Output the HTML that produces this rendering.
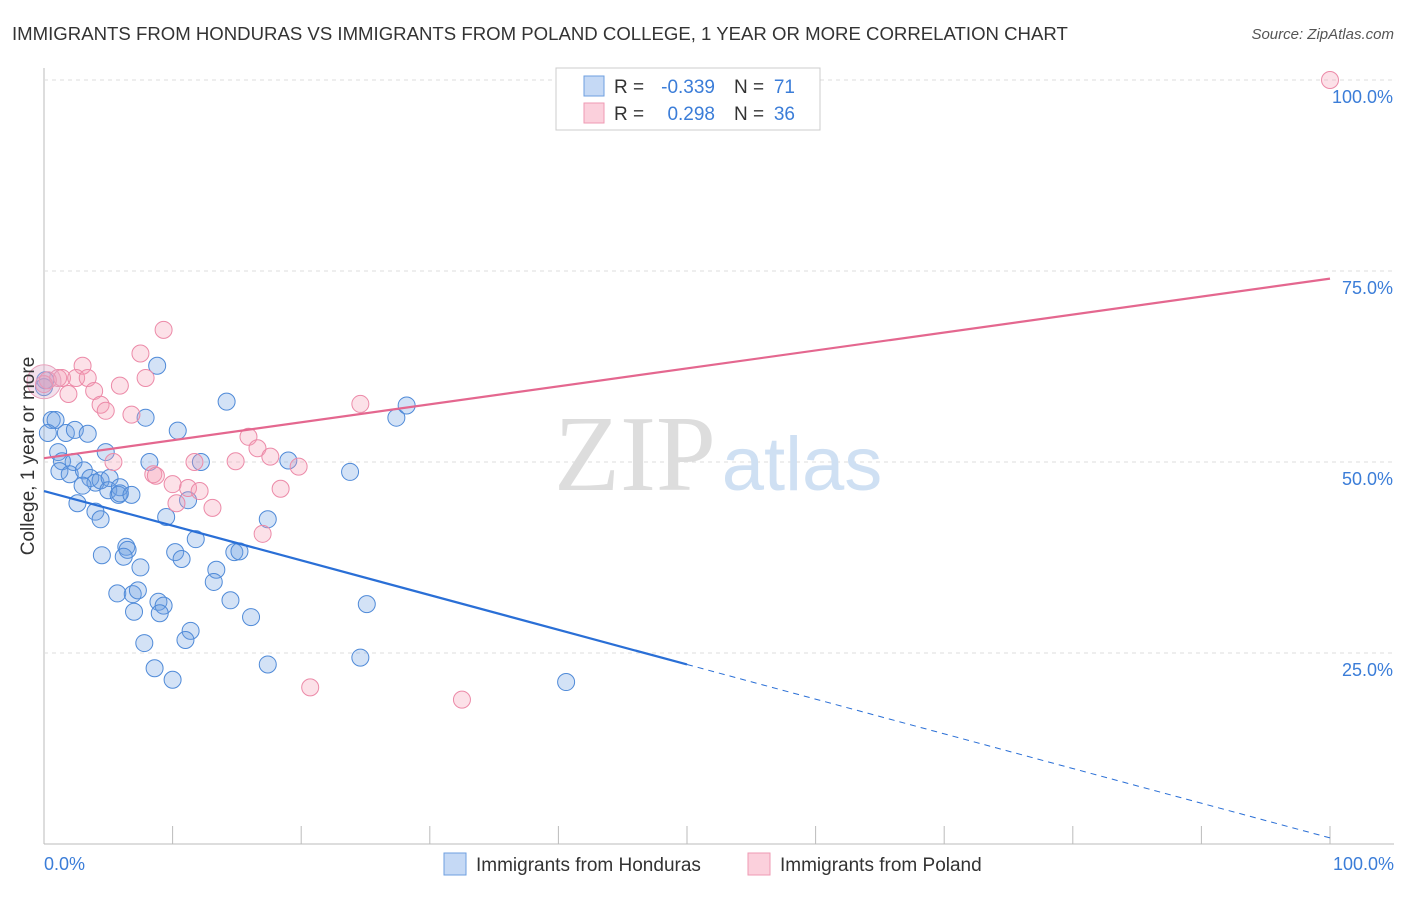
<!DOCTYPE html>
<html><head><meta charset="utf-8"><style>
body{margin:0;background:#fff;font-family:"Liberation Sans",sans-serif;}
</style></head><body>
<svg width="1406" height="892" xmlns="http://www.w3.org/2000/svg">
<text x="12" y="40" font-size="18.6" fill="#333">IMMIGRANTS FROM HONDURAS VS IMMIGRANTS FROM POLAND COLLEGE, 1 YEAR OR MORE CORRELATION CHART</text>
<text x="1394" y="39" font-size="15" fill="#555" font-style="italic" text-anchor="end">Source: ZipAtlas.com</text>
<g id="grid"></g>
<text x="635" y="490" font-size="108" fill="#ddd" font-family="Liberation Serif" text-anchor="middle">ZIP</text>
<text x="802" y="490" font-size="76" fill="#cfe0f3" text-anchor="middle">atlas</text>
<g id="pts"></g>
<g id="lines"></g>
<text x="34" y="456" font-size="19" fill="#333" text-anchor="middle" transform="rotate(-90 34 456)">College, 1 year or more</text>
<text x="44" y="870" font-size="18" fill="#3b7dd8">0.0%</text>
<text x="1394" y="870" font-size="18" fill="#3b7dd8" text-anchor="end">100.0%</text>
<g>
<rect x="556" y="68" width="264" height="62" fill="#fff" stroke="#ccc"/>
<rect x="584" y="76" width="20" height="20" fill="#c5d9f5" stroke="#6e9fe0"/>
<rect x="584" y="103" width="20" height="20" fill="#fbd0dc" stroke="#ef9ab3"/>
<text x="614" y="93" font-size="19" fill="#333">R =</text>
<text x="715" y="93" font-size="19" fill="#3b7dd8" text-anchor="end">-0.339</text>
<text x="734" y="93" font-size="19" fill="#333">N =</text>
<text x="795" y="93" font-size="19" fill="#3b7dd8" text-anchor="end">71</text>
<text x="614" y="120" font-size="19" fill="#333">R =</text>
<text x="715" y="120" font-size="19" fill="#3b7dd8" text-anchor="end">0.298</text>
<text x="734" y="120" font-size="19" fill="#333">N =</text>
<text x="795" y="120" font-size="19" fill="#3b7dd8" text-anchor="end">36</text>
</g>
<g>
<rect x="444" y="853" width="22" height="22" fill="#c5d9f5" stroke="#6e9fe0"/>
<text x="476" y="871" font-size="19" fill="#333">Immigrants from Honduras</text>
<rect x="748" y="853" width="22" height="22" fill="#fbd0dc" stroke="#ef9ab3"/>
<text x="780" y="871" font-size="19" fill="#333">Immigrants from Poland</text>
</g>
</svg>
<script>
const yTicks=[25,50,75,100];
const yTickLabels=["25.0%","50.0%","75.0%","100.0%"];
const hondurasX=[0.6,0.9,0.3,1.7,2.4,3.4,1.1,1.4,2.3,1.2,2.0,3.1,3.6,4.0,3.0,4.4,2.6,4.0,4.4,5.1,5.0,5.9,5.8,4.8,8.2,7.9,8.8,10.4,14.2,12.2,11.2,9.5,11.8,10.2,10.7,6.4,6.5,6.2,7.5,4.5,13.4,13.2,14.8,15.2,14.5,16.1,17.4,19.0,23.8,27.4,28.2,5.7,6.9,7.3,8.9,9.3,9.0,7.0,7.8,11.4,11.0,8.6,10.0,17.4,24.6,25.1,40.6,0.1,0.0,5.9,6.8];
const hondurasY=[55.5,55.5,53.8,53.8,54.2,53.7,51.3,50.1,50.0,48.8,48.4,48.9,47.9,47.3,46.9,47.6,44.6,43.5,42.5,47.9,46.3,46.7,45.7,51.3,50.0,55.8,62.6,54.1,57.9,50.0,45.0,42.8,39.9,38.2,37.3,38.9,38.5,37.6,36.2,37.8,35.9,34.3,38.2,38.3,31.9,29.7,42.5,50.2,48.7,55.8,57.4,32.8,32.7,33.2,31.7,31.2,30.2,30.4,26.3,27.9,26.7,23.0,21.5,23.5,24.4,31.4,21.2,60.7,59.8,45.9,45.7];
const polandX=[100,0.3,1.1,1.4,3.0,2.5,3.4,3.9,1.9,4.4,4.8,5.4,5.9,6.8,7.5,9.3,7.9,8.5,8.7,10.0,10.3,11.2,11.7,12.1,13.1,14.9,15.9,16.6,17.6,18.4,19.8,17.0,24.6,20.7,32.5,0.0];
const polandY=[100,60.7,61.0,61.0,62.6,61.0,61.0,59.3,58.9,57.5,56.7,50.0,60.0,56.2,64.2,67.3,61.0,48.4,48.2,47.1,44.6,46.6,50.0,46.2,44.0,50.1,53.3,51.8,50.7,46.5,49.4,40.6,57.6,20.5,18.9,60.2];
const trendStart=[46.2,50.5];
const trendEnd=[0.8,74.0];
const solidEndBlue=50;
const X0=44,X1=1330,Y0=844,Y1=80;
const sx=v=>X0+(X1-X0)*v/100, sy=v=>Y0-(Y0-Y1)*v/100;
const NS="http://www.w3.org/2000/svg";
function mk(t,a,p){const e=document.createElementNS(NS,t);for(const k in a)e.setAttribute(k,a[k]);p.appendChild(e);return e;}
const grid=document.getElementById('grid');
const ax=mk('line',{x1:X0,y1:68,x2:X0,y2:Y0,stroke:'#bbb'},grid);


const bx=mk('line',{x1:X0,y1:Y0,x2:1394,y2:Y0,stroke:'#bbb'},grid);


for(let i=1;i<=10;i++){const t=mk('line',{x1:X0+128.6*i,y1:Y0,x2:X0+128.6*i,y2:Y0-18,stroke:'#bbb'},grid);

}
yTicks.forEach((v,i)=>{const g=mk('line',{x1:X0,y1:sy(v),x2:1394,y2:sy(v),stroke:'#ddd','stroke-dasharray':'4,4'},grid);


const t=mk('text',{x:1393,y:sy(v)+23,'font-size':18,fill:'#3b7dd8','text-anchor':'end'},grid);t.textContent=yTickLabels[i];

});
const pts=document.getElementById('pts');
hondurasX.forEach((x,i)=>{const c=mk('circle',{cx:sx(x),cy:sy(hondurasY[i]),r:8.5,fill:'rgba(110,159,224,0.3)',stroke:'#4f8ad8','stroke-width':1},pts);

});
polandX.forEach((x,i)=>{const c=mk('circle',{cx:sx(x),cy:sy(polandY[i]),r:8.5,fill:'rgba(244,154,180,0.3)',stroke:'#ec8aa8','stroke-width':1},pts);

});
const big=mk('circle',{cx:sx(0),cy:sy(60.5),r:17,fill:'rgba(220,170,200,0.35)',stroke:'#e9a0bb'},pts);


const L=document.getElementById('lines');
const by=x=>trendStart[0]+(trendEnd[0]-trendStart[0])*x/100;
const b1=mk('line',{x1:sx(0),y1:sy(by(0)),x2:sx(solidEndBlue),y2:sy(by(solidEndBlue)),stroke:'#2a6fd6','stroke-width':2.2},L);


const b2=mk('line',{x1:sx(solidEndBlue),y1:sy(by(solidEndBlue)),x2:sx(100),y2:sy(by(100)),stroke:'#2a6fd6','stroke-width':1,'stroke-dasharray':'6,5'},L);


const p1=mk('line',{x1:sx(0),y1:sy(trendStart[1]),x2:sx(100),y2:sy(trendEnd[1]),stroke:'#e4678f','stroke-width':2.2},L);


</script>
</body></html>
